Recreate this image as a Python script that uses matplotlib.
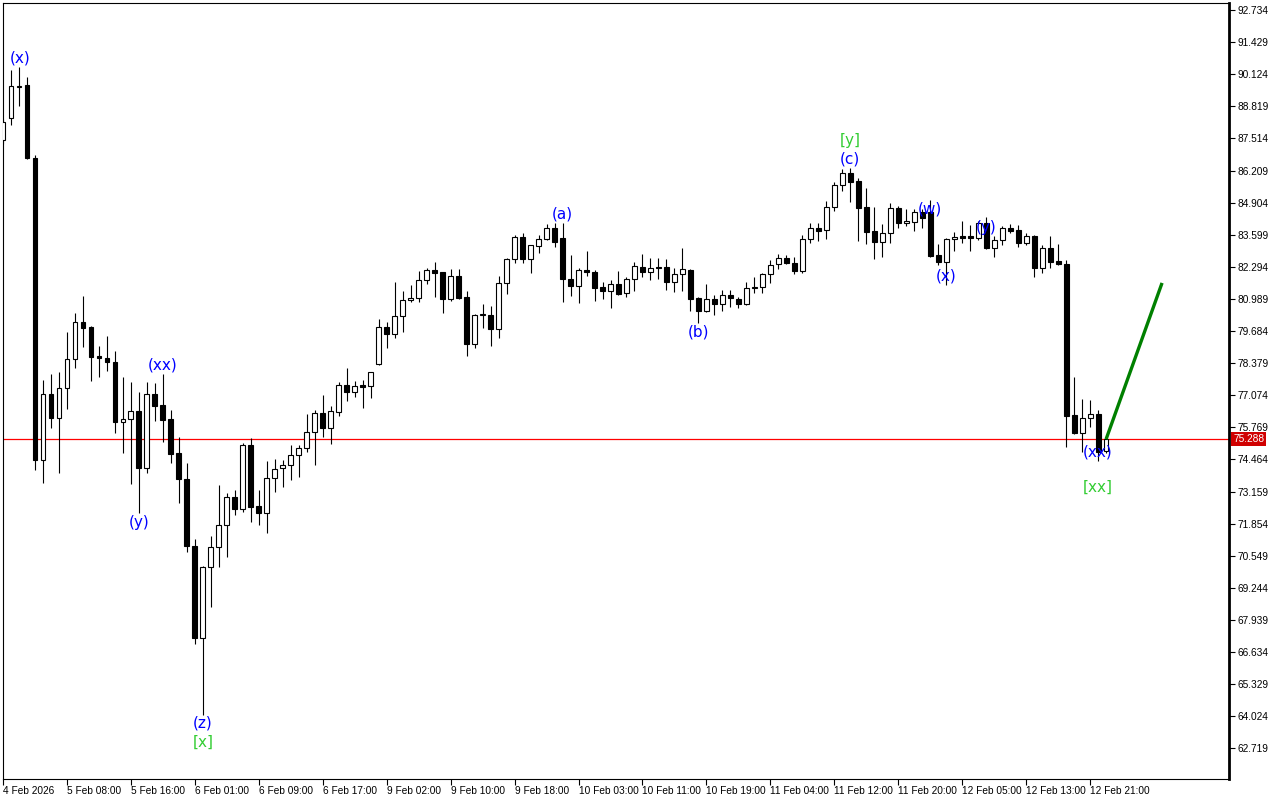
import matplotlib
matplotlib.use('Agg')
import matplotlib.pyplot as plt
from matplotlib.transforms import blended_transform_factory
import numpy as np

# Hourly OHLC (bar 0 = 4 Feb 2026 ... bar 138 = 12 Feb 23:00)
opens = [87.45, 88.34, 89.62, 89.68, 86.72, 74.44, 77.12, 76.15, 77.37, 78.55,
         80.05, 79.85, 78.67, 78.59, 78.43, 75.99, 76.11, 76.43, 74.12, 77.12,
         76.67, 76.11, 74.73, 73.67, 70.95, 67.21, 70.09, 70.90, 71.80, 72.94,
         72.45, 75.05, 72.57, 72.29, 73.71, 74.12, 74.24, 74.65, 74.93, 75.58,
         76.35, 75.74, 76.39, 77.49, 77.21, 77.49, 77.45, 78.34, 79.85, 79.56,
         80.29, 80.95, 81.03, 81.76, 82.16, 82.08, 80.99, 81.92, 81.07, 79.16,
         80.33, 80.33, 79.77, 81.64, 82.61, 83.51, 82.61, 83.14, 83.43, 83.87,
         83.47, 81.80, 81.52, 82.16, 82.08, 81.47, 81.31, 81.60, 81.23, 81.80,
         82.29, 82.08, 82.29, 82.29, 81.68, 82.00, 82.16, 81.03, 80.50, 80.99,
         80.78, 81.15, 80.99, 80.78, 81.43, 81.47, 82.00, 82.41, 82.65, 82.45,
         82.12, 83.43, 83.87, 83.79, 84.73, 85.62, 86.11, 85.78, 84.73, 83.75,
         83.30, 83.67, 84.69, 84.08, 84.12, 84.52, 84.52, 82.77, 82.49, 83.43,
         83.55, 83.55, 83.47, 84.08, 83.06, 83.38, 83.87, 83.79, 83.26, 83.55,
         82.25, 83.06, 82.53, 82.41, 76.27, 75.54, 76.15, 76.31, 74.80]
highs = [88.30, 90.30, 90.42, 90.01, 86.84, 77.69, 77.94, 78.02, 79.64, 80.42,
         81.11, 79.90, 79.08, 79.48, 78.87, 77.81, 77.61, 77.21, 77.61, 77.57,
         77.94, 76.47, 75.38, 74.32, 71.23, 70.13, 71.35, 73.42, 73.10, 73.22,
         75.13, 75.34, 73.22, 74.40, 74.48, 74.44, 75.05, 75.05, 76.31, 76.47,
         77.08, 76.63, 77.61, 78.18, 77.65, 77.69, 78.02, 80.17, 80.05, 81.68,
         81.31, 81.56, 82.12, 82.25, 82.49, 82.10, 82.21, 82.21, 81.31, 80.37,
         80.78, 80.70, 81.92, 82.65, 83.59, 83.67, 83.20, 83.59, 84.04, 84.08,
         84.08, 82.77, 82.25, 82.94, 82.16, 81.68, 81.76, 82.12, 81.88, 82.49,
         82.81, 82.65, 82.65, 82.61, 82.25, 83.06, 82.20, 81.05, 81.60, 81.15,
         81.35, 81.35, 81.07, 81.68, 81.88, 82.04, 82.57, 82.81, 82.77, 82.69,
         83.59, 84.08, 84.08, 84.97, 85.74, 86.27, 86.31, 85.91, 85.50, 84.73,
         84.04, 84.89, 84.77, 84.64, 84.64, 84.64, 85.01, 83.22, 83.47, 83.71,
         84.16, 84.00, 84.16, 84.32, 83.55, 83.95, 84.04, 83.99, 83.67, 83.60,
         83.18, 83.55, 83.22, 82.57, 77.81, 76.92, 76.88, 76.47, 75.30]
lows = [87.30, 88.06, 88.83, 86.68, 74.03, 73.51, 75.74, 73.91, 76.51, 78.18,
        79.04, 77.65, 77.81, 78.06, 75.54, 74.73, 73.47, 72.29, 73.91, 76.03,
        75.17, 74.32, 72.69, 70.70, 66.96, 64.07, 68.46, 70.09, 70.50, 72.21,
        72.33, 71.92, 71.80, 71.47, 73.14, 73.34, 73.63, 73.75, 74.77, 74.24,
        75.38, 75.09, 76.23, 76.84, 77.00, 76.55, 76.96, 78.30, 78.99, 79.40,
        79.64, 80.87, 80.87, 81.60, 81.07, 80.42, 80.90, 80.99, 78.67, 78.99,
        79.81, 79.08, 79.40, 81.19, 82.45, 82.45, 82.04, 82.86, 83.40, 83.10,
        80.87, 81.11, 80.82, 81.92, 80.91, 80.99, 80.62, 81.15, 81.07, 81.31,
        81.88, 81.76, 81.80, 81.35, 81.27, 81.31, 80.50, 80.01, 80.45, 80.33,
        80.50, 80.66, 80.62, 80.75, 81.23, 81.23, 81.64, 82.20, 82.40, 82.00,
        82.04, 83.26, 83.34, 83.43, 84.56, 85.38, 84.93, 83.34, 83.22, 82.61,
        82.69, 83.26, 83.87, 83.95, 83.75, 83.87, 82.70, 82.37, 81.56, 82.94,
        83.26, 82.94, 83.38, 83.00, 82.69, 83.18, 83.67, 83.10, 83.18, 81.88,
        82.04, 82.25, 82.37, 74.97, 75.50, 74.77, 75.78, 74.40, 74.73]
closes = [88.18, 89.64, 89.66, 86.72, 74.44, 77.12, 76.15, 77.37, 78.55, 80.05,
          79.81, 78.63, 78.59, 78.43, 75.99, 76.11, 76.43, 74.12, 77.12, 76.63,
          76.07, 74.69, 73.67, 70.95, 67.21, 70.09, 70.90, 71.80, 72.94, 72.45,
          75.05, 72.53, 72.29, 73.71, 74.08, 74.24, 74.65, 74.93, 75.58, 76.35,
          75.74, 76.43, 77.49, 77.21, 77.45, 77.41, 78.02, 79.85, 79.56, 80.29,
          80.95, 81.03, 81.76, 82.16, 82.04, 80.99, 81.92, 81.03, 79.16, 80.33,
          80.35, 79.77, 81.64, 82.61, 83.51, 82.61, 83.18, 83.43, 83.87, 83.30,
          81.80, 81.52, 82.16, 82.08, 81.43, 81.31, 81.60, 81.19, 81.80, 82.33,
          82.08, 82.25, 82.25, 81.68, 82.00, 82.21, 80.99, 80.50, 80.99, 80.78,
          81.15, 81.03, 80.78, 81.43, 81.45, 82.00, 82.37, 82.65, 82.45, 82.12,
          83.43, 83.87, 83.75, 84.73, 85.62, 86.11, 85.74, 84.69, 83.71, 83.30,
          83.67, 84.69, 84.08, 84.16, 84.52, 84.28, 82.73, 82.49, 83.43, 83.51,
          83.47, 83.47, 84.08, 83.06, 83.38, 83.87, 83.75, 83.26, 83.55, 82.25,
          83.06, 82.49, 82.41, 76.23, 75.54, 76.15, 76.31, 74.77, 75.288]

x_labels = ["4 Feb 2026", "5 Feb 08:00", "5 Feb 16:00", "6 Feb 01:00", "6 Feb 09:00",
            "6 Feb 17:00", "9 Feb 02:00", "9 Feb 10:00", "9 Feb 18:00", "10 Feb 03:00",
            "10 Feb 11:00", "10 Feb 19:00", "11 Feb 04:00", "11 Feb 12:00", "11 Feb 20:00",
            "12 Feb 05:00", "12 Feb 13:00", "12 Feb 21:00"]
y_ticks = [92.734, 91.429, 90.124, 88.819, 87.514, 86.209, 84.904, 83.599, 82.294,
           80.989, 79.684, 78.379, 77.074, 75.769, 74.464, 73.159, 71.854, 70.549,
           69.244, 67.939, 66.634, 65.329, 64.024, 62.719]
last_price = 75.288

# Wave labels: text, bar index, price level, kind
wave_text = ["(x)", "(xx)", "(y)", "(z)", "[x]", "(a)", "(b)", "[y]", "(c)",
             "(w)", "(x)", "(y)", "(xx)", "[xx]"]
wave_bar = [2.1, 20, 17, 25, 25, 70, 87, 106, 106, 116, 118, 123, 137, 137]
wave_price = [90.78, 78.30, 71.92, 63.75, 62.98, 84.44, 79.64, 87.41, 86.68,
              84.64, 81.92, 83.91, 74.77, 73.34]
wave_kind = ["minor", "minor", "minor", "minor", "major", "minor", "minor", "major",
             "minor", "minor", "minor", "minor", "minor", "major"]

# Projected path
proj_bar = [138, 145]
proj_price = [75.288, 81.64]

fig = plt.figure(figsize=(12.8, 8), dpi=100)
fig.patch.set_facecolor('white')
ax = fig.add_axes([3 / 1280, 21 / 800, 1226 / 1280, 776 / 800])
ax.set_facecolor('white')

o = np.array(opens)
h = np.array(highs)
l = np.array(lows)
c = np.array(closes)
idx = np.arange(len(o))

ax.vlines(idx, l, h, color='black', lw=0.8, zorder=2)
bull = c >= o
bottoms = np.minimum(o, c)
heights = np.maximum(np.abs(c - o), 0.035)
ax.bar(idx[bull], heights[bull], bottom=bottoms[bull], width=0.6,
       facecolor='white', edgecolor='black', linewidth=0.8, zorder=3)
ax.bar(idx[~bull], heights[~bull], bottom=bottoms[~bull], width=0.6,
       facecolor='black', edgecolor='black', linewidth=0.8, zorder=3)

ax.axhline(last_price, color='#ff0000', lw=0.9, zorder=1, snap=True)

ax.plot(proj_bar, proj_price, color='#008000', lw=2.4, zorder=4,
        solid_capstyle='butt')

colors = {"minor": "#0000ff", "major": "#32cd32"}
for t, b, p, k in zip(wave_text, wave_bar, wave_price, wave_kind):
    ax.text(b, p, t, color=colors[k], fontsize=11, ha='center', va='center',
            family='DejaVu Sans', zorder=6)

ax.set_xlim(0.125, 153.375)
ax.set_ylim(61.474, 93.019)

ax.set_xticks(np.arange(0, 8 * len(x_labels), 8))
ax.set_xticklabels(x_labels, ha='left', fontsize=7.3, family='Liberation Sans')
ax.tick_params(axis='x', direction='out', length=4, width=0.8, pad=1)

ax.yaxis.tick_right()
ax.set_yticks(y_ticks)
ax.set_yticklabels([f"{v:.3f}" for v in y_ticks], fontsize=7.3, family='Liberation Sans')
ax.tick_params(axis='y', direction='out', length=4, width=0.8, pad=2)

for s in ['top', 'left', 'bottom']:
    ax.spines[s].set_linewidth(0.8)
ax.spines['right'].set_linewidth(2.0)

tr = blended_transform_factory(ax.transAxes, ax.transData)
ax.text(1.0035, last_price, f"{last_price:.3f}", transform=tr, ha='left', va='center',
        fontsize=7.3, family='Liberation Sans', color='white', zorder=7,
        bbox=dict(boxstyle='square,pad=0.18', fc='#d00000', ec='none'))

fig.savefig('out.png', dpi=100, facecolor='white')
